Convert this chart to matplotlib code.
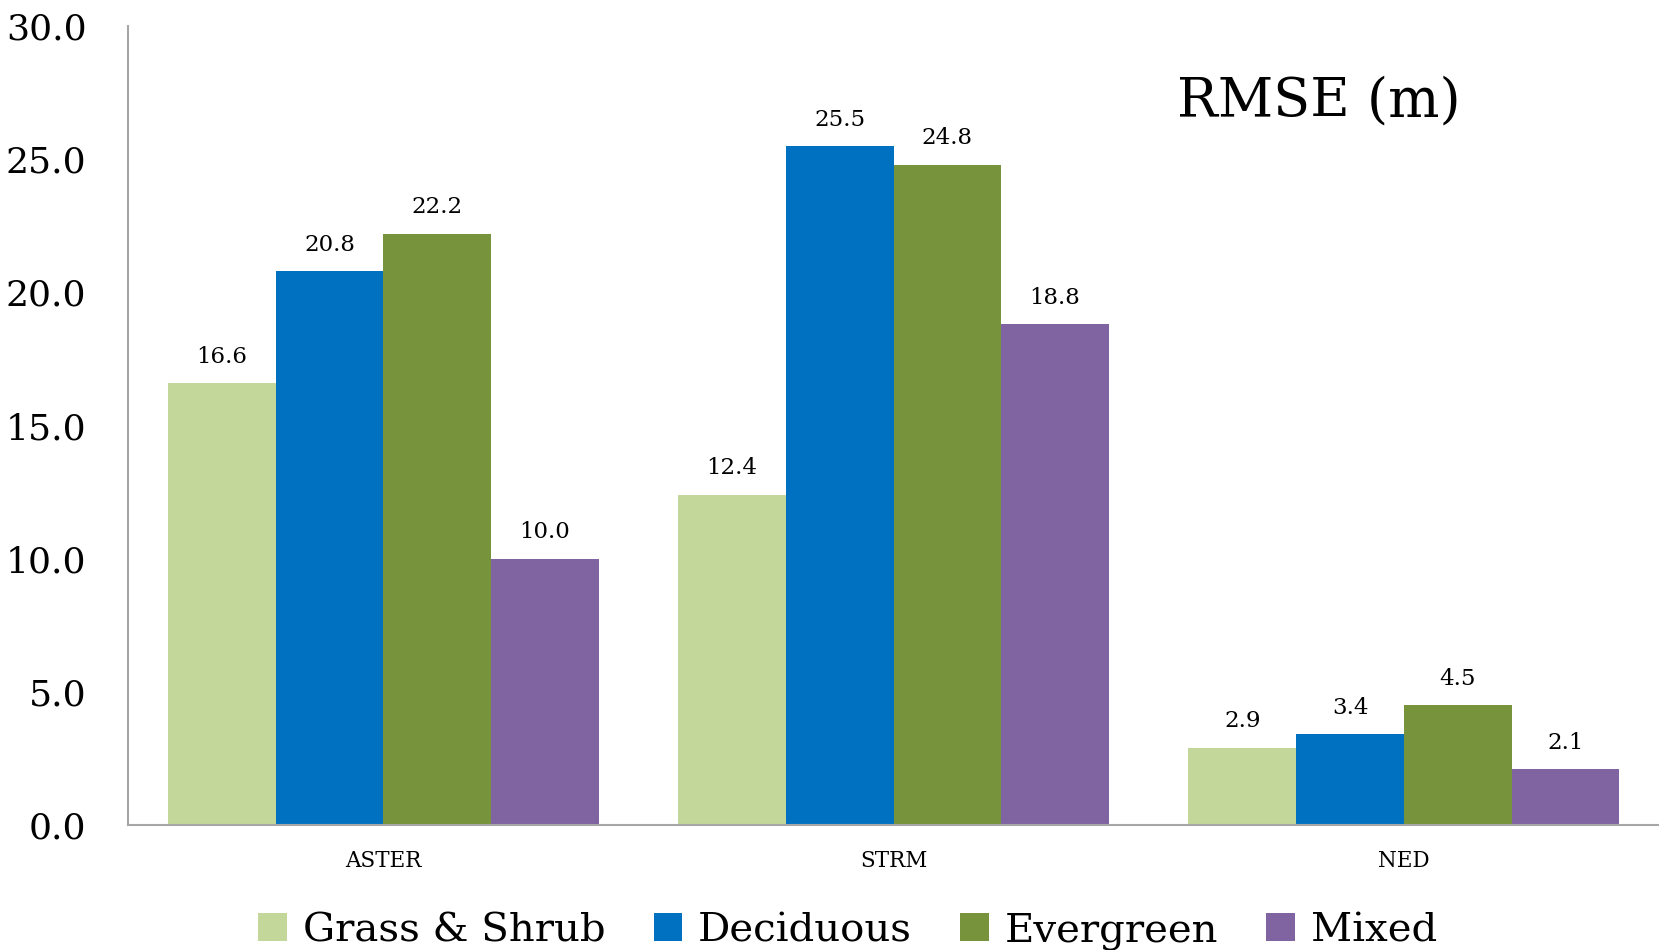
import numpy as np
import matplotlib
matplotlib.use("Agg")
import matplotlib.pyplot as plt

plt.rcParams["font.family"] = ["DejaVu Serif"]

# --- data ---
datasets = ["ASTER", "STRM", "NED"]
series = ["Grass & Shrub", "Deciduous", "Evergreen", "Mixed"]
grass = [16.6, 12.4, 2.9]
deciduous = [20.8, 25.5, 3.4]
evergreen = [22.2, 24.8, 4.5]
mixed = [10.0, 18.8, 2.1]
colors = ["#C4D79B", "#0070C0", "#77933C", "#8064A2"]

fig = plt.figure(figsize=(16.59, 9.5), dpi=100)
ax = fig.add_axes([0.0772, 0.1316, 0.9228, 0.841])

x = np.arange(len(datasets))
w = 0.211
for i, (name, vals, c) in enumerate(zip(series, [grass, deciduous, evergreen, mixed], colors)):
    pos = x + (i - 1.5) * w
    bars = ax.bar(pos, vals, w, color=c, label=name)
    for b, v in zip(bars, vals):
        ax.annotate(f"{v:.1f}", (b.get_x() + b.get_width() / 2, v),
                    xytext=(0, 11), textcoords="offset points",
                    ha="center", va="bottom", fontsize=16.5)

ax.set_xlim(-0.5, 2.5)
ax.set_ylim(0, 30)
ax.set_yticks(np.arange(0, 30.1, 5))
ax.set_yticklabels([f"{t:.1f}" for t in np.arange(0, 30.1, 5)], fontsize=26)
ax.set_xticks(x)
ax.set_xticklabels(datasets, fontsize=15.5)
ax.tick_params(axis="both", length=0)
ax.tick_params(axis="y", pad=30)
ax.tick_params(axis="x", pad=18)
for s in ["top", "right"]:
    ax.spines[s].set_visible(False)
for s in ["left", "bottom"]:
    ax.spines[s].set_color("#A6A6A6")
    ax.spines[s].set_linewidth(1.5)

ax.text(0.778, 0.905, "RMSE (m)", transform=ax.transAxes, fontsize=39,
        ha="center", va="center")

fig.legend(loc="center", bbox_to_anchor=(0.511, 0.02), ncol=4, frameon=False,
           fontsize=29, handlelength=0.7, handleheight=0.7, handletextpad=0.4,
           columnspacing=1.2)

fig.savefig("out.png", dpi=100)
